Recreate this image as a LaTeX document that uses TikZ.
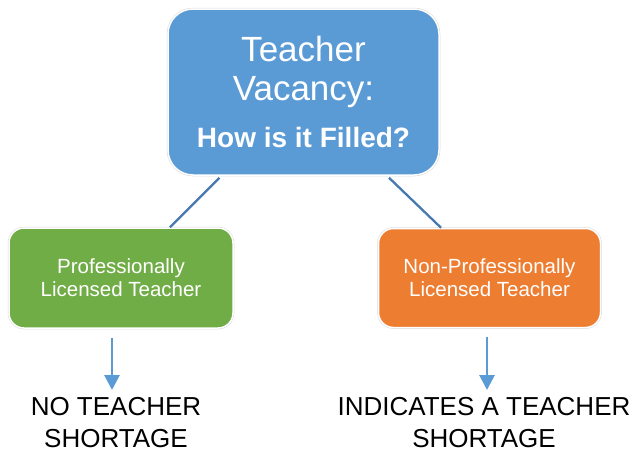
\documentclass[tikz,border=0pt]{standalone}
\usepackage{fontspec}
\setmainfont{Liberation Sans}
\usetikzlibrary{arrows.meta,calc}

\definecolor{vacblue}{HTML}{5B9BD5}
\definecolor{profgreen}{HTML}{70AD47}
\definecolor{nonorange}{HTML}{ED7D31}
\definecolor{linkblue}{HTML}{4778B0}

\tikzset{
  card/.style={rounded corners=15pt, draw=white, line width=1.5pt,
    preaction={draw=black!15, line width=2.5pt},
    text=white, align=center, inner sep=0pt},
  link/.style={draw=linkblue, line width=2.3pt},
  flow/.style={draw=vacblue, line width=2.8pt, -{Triangle[width=15pt,length=15pt]}},
  verdict/.style={align=center, anchor=north, inner sep=0pt,
    font=\fontsize{26}{32}\selectfont}
}

\begin{document}
\begin{tikzpicture}[x=1pt,y=-1pt]
      \useasboundingbox (0,0) rectangle (637,453);

      % the vacancy and the two ways of filling it
      \node[card, fill=vacblue, rounded corners=25pt, minimum width=271pt, minimum height=166pt,
            font=\fontsize{35}{39}\selectfont] (vac) at (303.5,92)
            {Teacher\\Vacancy:\\[8pt]{\bfseries\fontsize{28}{32}\selectfont How is it Filled?}};
      \node[card, fill=profgreen, minimum width=224pt, minimum height=100pt,
            font=\fontsize{20.5}{23}\selectfont] (prof) at (121,278)
            {Professionally\\Licensed Teacher};
      \node[card, fill=nonorange, minimum width=222pt, minimum height=99pt,
            font=\fontsize{20.5}{23}\selectfont] (nonprof) at (489.5,278)
            {Non-Professionally\\Licensed Teacher};

      \draw[link] ($(vac.south)+(-84,2)$) -- ($(prof.north)+(49,0)$);
      \draw[link] ($(vac.south)+(85.5,2)$) -- ($(nonprof.north)+(-48.5,0)$);

	% what it means
	\node[verdict] (noshort) at (116,397.5) {NO TEACHER\\SHORTAGE};
	\node[verdict] (short) at (484,397.5) {INDICATES A TEACHER\\SHORTAGE};

	\draw[flow] ([xshift=-9pt,yshift=-9pt]prof.south) -- ([xshift=-4pt,yshift=7.5pt]noshort.north);
	\draw[flow] ([xshift=-2.5pt,yshift=-9pt]nonprof.south) -- ([xshift=3pt,yshift=7.5pt]short.north);
    \end{tikzpicture}
\end{document}
